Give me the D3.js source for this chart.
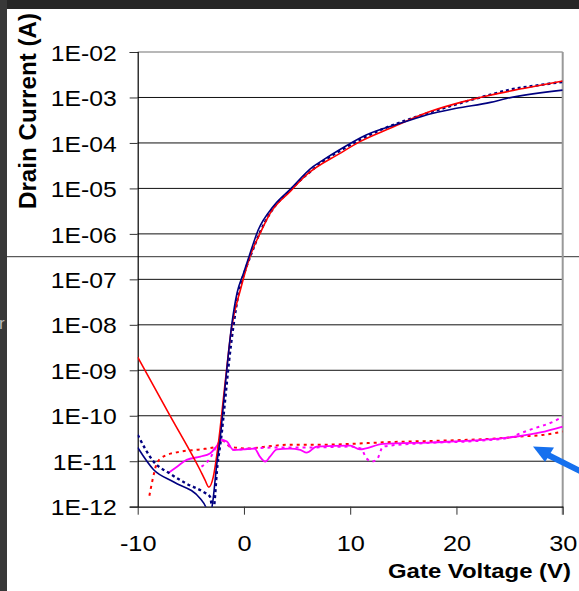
<!DOCTYPE html>
<html>
<head>
<meta charset="utf-8">
<script src="https://cdn.jsdelivr.net/npm/d3@7"></script>
<style>
  body { margin: 0; background: #fff; }
  svg { display: block; font-family: "Liberation Sans", Arial, sans-serif; }
</style>
</head>
<body>
<svg id="chart" width="579" height="591"></svg>
<script>
/*************
Data (gate voltage in V, drain current in A)
**************/
var yTicks = [1e-2, 1e-3, 1e-4, 1e-5, 1e-6, 1e-7, 1e-8, 1e-9, 1e-10, 1e-11, 1e-12];
var xTicks = [-10, 0, 10, 20, 30];

var vgBlueSolid = [-10, -8.5, -6.6, -4.1, -3.6, -3.3, -3.0, -2.55, -2.25, -1.75, -1.15, -0.65, -0.05, 0.4, 1.35, 2.75, 4.3, 6.5, 7.5, 9.0, 11.5, 14.7, 17.8, 20.0, 23.2, 24.7, 30];
var idBlueSolid = [2.0e-11, 6.5e-12, 3.5e-12, 1.5e-12, 1.0e-12, 6.3e-13, 1.0e-12, 8.9e-12, 3.0e-11, 5.0e-10, 1.0e-8, 5.0e-8, 1.35e-7, 2.8e-7, 1.23e-6, 4.0e-6, 9.3e-6, 3.0e-5, 4.3e-5, 7.1e-5, 1.5e-4, 2.7e-4, 4.5e-4, 5.8e-4, 7.8e-4, 9.5e-4, 1.45e-3];

var vgBlueDot = [-10, -8.5, -7.0, -5.4, -3.8, -3.2, -2.9, -2.5, -2.1, -1.75, -1.4, -1.0, -0.5, 0.2, 0.6, 1.5, 2.6, 4.3, 6.0, 7.5, 9.0, 11.0, 13.0, 15.0, 17.0, 19.0, 21.0, 23.0, 25.0, 28.0, 30];
var idBlueDot = [3.8e-11, 9.8e-12, 5.4e-12, 3.2e-12, 2.1e-12, 1.66e-12, 8e-13, 7.9e-12, 4.0e-11, 2.5e-10, 1.6e-9, 9.1e-9, 5.0e-8, 1.8e-7, 3.2e-7, 1.07e-6, 3.2e-6, 8.9e-6, 2.1e-5, 4.0e-5, 6.6e-5, 1.2e-4, 2.0e-4, 3.0e-4, 4.3e-4, 6.0e-4, 8.3e-4, 1.12e-3, 1.48e-3, 1.9e-3, 2.2e-3];

var vgRedSolid = [-10, -7, -4.14, -3.67, -3.3, -2.88, -2.41, -1.78, -1.15, -0.3, 0.57, 1.51, 2.45, 4.33, 5.9, 9.04, 10.92, 13.75, 17.51, 20.65, 23.16, 26.29, 30];
var idRedSolid = [1.95e-9, 1.05e-10, 6.5e-12, 3.9e-12, 2.7e-12, 4.6e-12, 2.45e-11, 5.1e-10, 9.1e-9, 6.3e-8, 3.2e-7, 1.02e-6, 2.8e-6, 8.5e-6, 2.0e-5, 5.9e-5, 1.07e-4, 2.1e-4, 4.9e-4, 8.1e-4, 1.12e-3, 1.58e-3, 2.3e-3];

var vgRedDot = [-8.9, -8.6, -8.2, -7.6, -6.0, -4.1, -2.6, -1.95, -1.3, 0.3, 2.1, 4.3, 7.2, 10.0, 13.1, 17.8, 21.0, 24.1, 26.0, 28.2, 30];
var idRedDot = [1.74e-12, 3.9e-12, 8.9e-12, 1.26e-11, 1.62e-11, 1.82e-11, 2.1e-11, 2.8e-11, 2.1e-11, 1.9e-11, 2.1e-11, 2.3e-11, 2.3e-11, 2.4e-11, 2.6e-11, 2.8e-11, 2.95e-11, 3.2e-11, 3.5e-11, 3.8e-11, 4.5e-11];

var vgPinkSolid = [-7.1, -6.3, -5.4, -4.1, -3.2, -2.6, -2.1, -1.6, -1.0, -0.1, 1.0, 1.5, 2.0, 2.45, 3.1, 4.3, 5.3, 5.9, 6.85, 10.0, 10.9, 13.1, 17.8, 22.5, 25.7, 27.9, 30];
var idPinkSolid = [5.6e-12, 7.6e-12, 1.07e-11, 1.26e-11, 1.48e-11, 2.1e-11, 2.95e-11, 2.7e-11, 1.78e-11, 1.82e-11, 1.9e-11, 1.26e-11, 9.8e-12, 1.26e-11, 1.82e-11, 1.9e-11, 1.78e-11, 1.55e-11, 2.1e-11, 2.2e-11, 1.82e-11, 2.4e-11, 2.6e-11, 2.95e-11, 3.5e-11, 4.3e-11, 5.8e-11];

var vgPinkDot = [-4.0, -3.2, -2.6, -2.1, -1.6, -1.0, 0.5, 3.0, 6.0, 10.0, 11.0, 11.55, 12.0, 12.5, 13.1, 17.0, 22.0, 25.0, 26.0, 26.9, 29.1, 30];
var idPinkDot = [7.6e-12, 1.15e-11, 2.1e-11, 2.95e-11, 2.45e-11, 1.78e-11, 1.9e-11, 2.0e-11, 2.0e-11, 2.1e-11, 1.9e-11, 1.15e-11, 9.8e-12, 1.07e-11, 2.1e-11, 2.5e-11, 2.8e-11, 3.3e-11, 4.1e-11, 4.9e-11, 7.4e-11, 9.5e-11];

/*************
Params
**************/
var plotL = 137.7, plotT = 52, plotR = 562.7, plotB = 506.7;
var sx = 1.15; // labels look horizontally stretched in the slide

var svg = d3.select("#chart");

// slide frame bits
svg.append("rect").attr("x", 0).attr("y", 0).attr("width", 579).attr("height", 9).attr("fill", "#262626");
svg.append("rect").attr("x", 0).attr("y", 0).attr("width", 7).attr("height", 591).attr("fill", "#383838");
svg.append("line").attr("x1", 7).attr("x2", 579).attr("y1", 256.7).attr("y2", 256.7)
  .attr("stroke", "#333").attr("stroke-width", 1);
svg.append("text").attr("x", -1).attr("y", 329).attr("font-size", 17).attr("fill", "#bbb").text("r");

var x = d3.scaleLinear().domain([-10, 30]).range([plotL, plotR]);
var y = d3.scaleLog().domain([1e-12, 1e-2]).range([plotB, plotT]);

// grid
svg.append("g").selectAll("line")
  .data(yTicks.slice(1, -1))
  .enter().append("line")
  .attr("x1", plotL).attr("x2", plotR)
  .attr("y1", d => y(d)).attr("y2", d => y(d))
  .attr("stroke", "#111").attr("stroke-width", 1);

// plot frame top/right (grey)
svg.append("line").attr("x1", plotL).attr("x2", plotR).attr("y1", plotT).attr("y2", plotT)
  .attr("stroke", "#a0a0a0").attr("stroke-width", 1.5);
svg.append("line").attr("x1", plotR).attr("x2", plotR).attr("y1", plotT).attr("y2", plotB + 8)
  .attr("stroke", "#999").attr("stroke-width", 2);

// axes
var yAxis = svg.append("g")
  .attr("transform", "translate(" + plotL + ",0)")
  .call(d3.axisLeft(y).tickValues(yTicks).tickSize(8).tickPadding(10.2)
    .tickFormat(d => "1E-" + d3.format("02d")(-Math.round(Math.log10(d)))));
yAxis.select(".domain").attr("stroke", "#000").attr("stroke-width", 1.2);
yAxis.selectAll(".tick line").attr("stroke", "#333");
yAxis.selectAll("text")
  .attr("font-size", 21.5).attr("fill", "#000").attr("font-family", "Liberation Sans, Arial, sans-serif")
  .attr("dy", "0.38em")
  .attr("transform", "scale(" + sx + ",1)");

var xAxis = svg.append("g")
  .attr("transform", "translate(0," + plotB + ")")
  .call(d3.axisBottom(x).tickValues(xTicks).tickSize(8).tickSizeOuter(0)
    .tickFormat(d => String(d)));
xAxis.select(".domain").attr("stroke", "#000").attr("stroke-width", 1.2);
xAxis.selectAll(".tick line").attr("stroke", "#333");
xAxis.selectAll("text")
  .attr("font-size", 22).attr("fill", "#000").attr("font-family", "Liberation Sans, Arial, sans-serif")
  .attr("y", 44.3).attr("dy", 0)
  .attr("transform", "scale(" + sx + ",1)");

// axis titles
svg.append("text")
  .attr("transform", "translate(571,577.5) scale(1.14,1)")
  .attr("text-anchor", "end")
  .attr("font-size", 21).attr("font-weight", "bold")
  .text("Gate Voltage (V)");

svg.append("text")
  .attr("transform", "translate(36,209) rotate(-90)")
  .attr("text-anchor", "start")
  .attr("font-size", 24).attr("font-weight", "bold")
  .attr("textLength", 196).attr("lengthAdjust", "spacingAndGlyphs")
  .text("Drain Current (A)");

// curves
svg.append("clipPath").attr("id", "plotclip")
  .append("rect").attr("x", plotL).attr("y", plotT).attr("width", plotR - plotL).attr("height", plotB - plotT);

var series = [
  {vg: vgRedDot, id: idRedDot, color: "#ff0000", width: 2, dash: "3,4"},
  {vg: vgPinkDot, id: idPinkDot, color: "#ff00ff", width: 2, dash: "3,4"},
  {vg: vgPinkSolid, id: idPinkSolid, color: "#ff00ff", width: 1.8, dash: null},
  {vg: vgBlueDot, id: idBlueDot, color: "#000080", width: 2.4, dash: "3,3"},
  {vg: vgRedSolid, id: idRedSolid, color: "#ff0000", width: 1.6, dash: null},
  {vg: vgBlueSolid, id: idBlueSolid, color: "#000080", width: 1.6, dash: null}
];

var line = d3.line()
  .x(d => x(d[0]))
  .y(d => y(d[1]))
  .curve(d3.curveMonotoneX);

svg.append("g").attr("clip-path", "url(#plotclip)")
  .selectAll("path")
  .data(series)
  .enter().append("path")
  .attr("d", s => line(d3.zip(s.vg, s.id)))
  .attr("fill", "none")
  .attr("stroke", s => s.color)
  .attr("stroke-width", s => s.width)
  .attr("stroke-dasharray", s => s.dash);

// blue pointer arrow
svg.append("line").attr("x1", 548).attr("y1", 455).attr("x2", 582).attr("y2", 472)
  .attr("stroke", "#1670ee").attr("stroke-width", 6);
svg.append("path")
  .attr("d", "M533,446.5 L545,462 L554,447.5 Z")
  .attr("fill", "#1670ee");
</script>
</body>
</html>
